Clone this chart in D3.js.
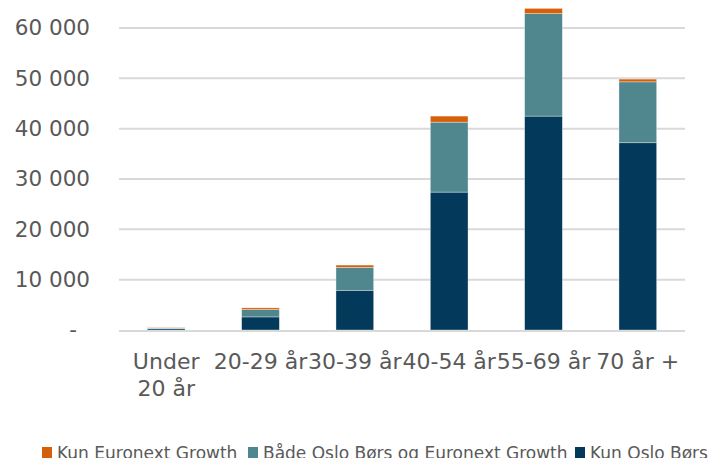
<!DOCTYPE html>
<html><head><meta charset="utf-8">
<script src="https://cdn.jsdelivr.net/npm/d3@7"></script>
<style>body{margin:0;background:#fff}svg{display:block}</style>
</head><body>
<svg id="c" width="715" height="458"></svg>
<script>
const categories = ["Under 20 år","20-29 år","30-39 år","40-54 år","55-69 år","70 år +"];
const kunOslo = [250, 2600, 7900, 27400, 42500, 37200];
const begge = [150, 1450, 4550, 13900, 20350, 12100];
const kunGrowth = [100, 350, 450, 1200, 1050, 550];
const seriesNames = ["Kun Oslo Børs","Både Oslo Børs og Euronext Growth","Kun Euronext Growth"];
const seriesColors = ["#033A5B","#50868D","#D65F0A"];
const yTicks = [0,10000,20000,30000,40000,50000,60000];
const legendOrder = [2,1,0];

const svg = d3.select("#c");
const font = "'DejaVu Sans', sans-serif";
const textColor = "#595959";
const m = {l:119, r:30, t:28, b:128};
const W = 715, H = 458;
const x = d3.scaleBand().domain(categories).range([m.l, W-m.r]).paddingInner(0.6).paddingOuter(0.3);
const y = d3.scaleLinear().domain([0,60000]).range([330, 28]);

const fmt = v => v===0 ? "-" : d3.format(",")(v).replace(/,/g," ");

// gridlines
svg.append("g").selectAll("line").data(yTicks.filter(d=>d>0)).join("line")
  .attr("x1", m.l).attr("x2", W-m.r).attr("y1", d=>y(d)).attr("y2", d=>y(d))
  .attr("stroke","#D9D9D9").attr("stroke-width",2);

// y axis
const ya = svg.append("g").attr("transform",`translate(90,0)`)
  .call(d3.axisLeft(y).tickValues(yTicks).tickFormat(fmt).tickSize(0).tickPadding(0));
ya.select(".domain").remove();
ya.selectAll("text").attr("font-family",font).attr("font-size",21.5).attr("fill",textColor)
  .attr("dx", d=> d===0 ? -13 : 0);

// stacks
const table = categories.map((c,i)=>({cat:c, s0:kunOslo[i], s1:begge[i], s2:kunGrowth[i]}));
const stack = d3.stack().keys(["s0","s1","s2"])(table);
svg.append("g").selectAll("g").data(stack).join("g").attr("fill",(d,i)=>seriesColors[i])
  .selectAll("rect").data(d=>d).join("rect")
  .attr("x", d=>x(d.data.cat)).attr("width", x.bandwidth())
  .attr("y", d=>y(d[1])).attr("height", d=>y(d[0])-y(d[1]))
  .attr("stroke","#ffffff").attr("stroke-width",0.6).attr("stroke-opacity",0.6);

// baseline
svg.append("line").attr("x1",m.l).attr("x2",W-m.r).attr("y1",y(0)+1).attr("y2",y(0)+1)
  .attr("stroke","#D9D9D9").attr("stroke-width",2);

// x axis labels
const xa = svg.append("g").attr("transform",`translate(0,${y(0)})`)
  .call(d3.axisBottom(x).tickSize(0).tickPadding(0).tickFormat(""));
xa.select(".domain").remove();
xa.selectAll(".tick").each(function(d){
  const g = d3.select(this);
  const lines = d==="Under 20 år" ? ["Under","20 år"] : [d];
  lines.forEach((t,k)=>{
    g.append("text").text(t).attr("y", 39 + k*27).attr("text-anchor","middle")
      .attr("font-family",font).attr("font-size",22).attr("fill",textColor);
  });
});

// legend
const lg = svg.append("g").attr("transform","translate(0,459)");
const legX = [42, 248, 575];
legendOrder.forEach((si,k)=>{
  lg.append("rect").attr("x",legX[k]).attr("y",-12).attr("width",10).attr("height",12).attr("fill",seriesColors[si]);
  lg.append("text").attr("x",legX[k]+15).attr("y",0).text(seriesNames[si])
    .attr("font-family",font).attr("font-size",17).attr("fill",textColor);
});
</script>
</body></html>
